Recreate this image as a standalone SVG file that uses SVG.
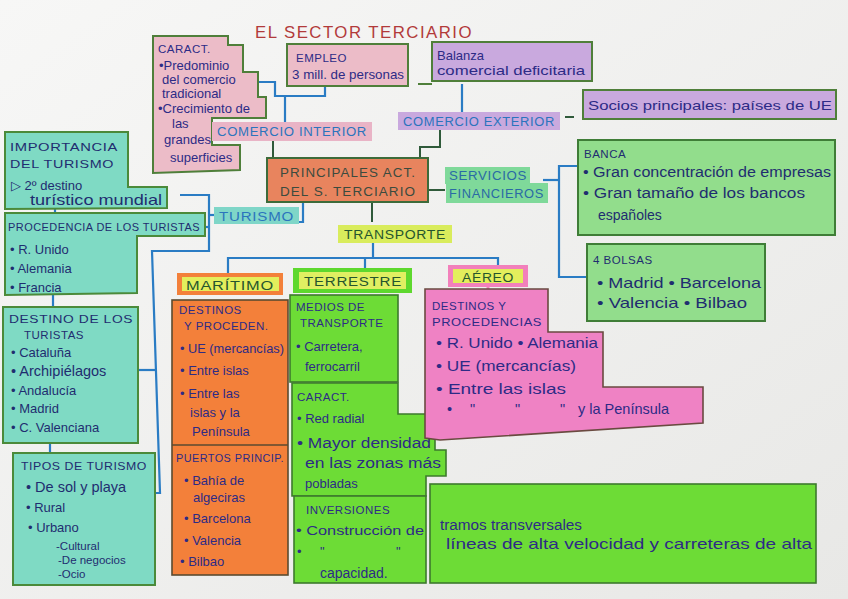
<svg xmlns="http://www.w3.org/2000/svg" width="848" height="599" viewBox="0 0 848 599">
<defs>
<linearGradient id="bg" x1="0" y1="0" x2="1" y2="1">
<stop offset="0" stop-color="#f7f7f6"/>
<stop offset="1" stop-color="#e8e8e6"/>
</linearGradient>
</defs>
<style>
text{font-family:"Liberation Sans","DejaVu Sans",sans-serif;}
.t{font-size:13px;fill:#2d2b86;}
.h{font-size:11.5px;fill:#2d2b86;letter-spacing:0.5px;}
.tn{font-size:13px;fill:#1f2d70;}
.hn{font-size:11.5px;fill:#1f2d70;letter-spacing:0.5px;}
.lb{font-size:12px;fill:#2b74bd;letter-spacing:0.6px;}
.lg{font-size:12.5px;fill:#25552e;letter-spacing:0.6px;}
.pink{fill:#ecbcc8;stroke:#4f7f3a;stroke-width:2;}
.purple{fill:#c9a9de;stroke:#4f7f3a;stroke-width:2;}
.teal{fill:#7fdac4;stroke:#4b8a3a;stroke-width:2;}
.lgreen{fill:#92dd8c;stroke:#3f7d37;stroke-width:2;}
.bgreen{fill:#6ddc36;stroke:#3d7a2d;stroke-width:1.6;}
.orange{fill:#f3803a;stroke:#5a4a30;stroke-width:1.6;}
.hpink{fill:#ef82c4;stroke:#6a4a40;stroke-width:1.6;}
.conn{fill:none;stroke:#2a7cc4;stroke-width:2.2;}
.connd{fill:none;stroke:#2f5a3a;stroke-width:2;}
</style>
<rect width="848" height="599" fill="url(#bg)"/>

<text x="255" y="38" style="font-size:17px;fill:#b23a3a;letter-spacing:1.5px" textLength="218" lengthAdjust="spacingAndGlyphs">EL SECTOR TERCIARIO</text>

<g id="connectors">
<path class="conn" d="M258,82 H275 V96 H325 V86"/>
<path class="conn" d="M285,96 V122"/>
<path class="connd" d="M273,141 V158"/>
<path class="conn" d="M462,84 V112"/>
<path class="connd" d="M440,130 V147 H420 V158"/>
<path class="connd" d="M565,117 H574"/>
<path class="connd" d="M428,190 H445"/>
<path class="conn" d="M543,180 H559"/>
<path class="conn" d="M578,166 H559 V277 H587"/>
<path class="conn" d="M303,202 V222 H298"/>
<path class="conn" d="M180,195 H209 V251 H152 L160,493 H155"/>
<path class="conn" d="M203,227 H209"/>
<path class="conn" d="M209,215 H214"/>
<path class="conn" d="M138,370 H156"/>
<path class="conn" d="M55,208 V213"/>
<path class="conn" d="M53,295 V307"/>
<path class="conn" d="M50,443 V453"/>
<path class="connd" d="M372,202 V222"/>
<path class="conn" d="M373,243 V258"/>
<path class="conn" d="M228,273 V258 H498 V265"/>
<path class="conn" d="M365,258 V268"/>
</g>

<g id="caract-comercio">
<polygon class="pink" points="153,36 228,36 228,45 243,45 243,72 258,72 258,97 266,97 266,118 212,118 212,145 240,145 240,170 153,173"/>
<text class="h" x="158" y="53">CARACT.</text>
<text class="t" x="159" y="70">•Predominio</text>
<text class="t" x="162" y="84">del comercio</text>
<text class="t" x="162" y="98">tradicional</text>
<text class="t" x="158" y="113">•Crecimiento de</text>
<text class="t" x="172" y="128">las</text>
<text class="t" x="164" y="144">grandes</text>
<text class="t" x="170" y="162">superficies</text>
</g>

<g id="comercio-interior">
<rect x="212" y="122" width="160" height="19" fill="#e9b4c6"/>
<text class="lb" x="217" y="136" textLength="150" lengthAdjust="spacingAndGlyphs">COMERCIO INTERIOR</text>
</g>

<g id="empleo">
<rect class="pink" x="287" y="44" width="121" height="42"/>
<text class="h" x="296" y="62">EMPLEO</text>
<text class="t" x="292" y="79" textLength="112" lengthAdjust="spacingAndGlyphs">3 mill. de personas</text>
</g>

<g id="balanza">
<rect class="purple" x="432" y="42" width="160" height="39"/>
<line x1="418" y1="84" x2="432" y2="84" stroke="#4f7f3a" stroke-width="2"/>
<text class="t" x="437" y="60">Balanza</text>
<text class="t" x="437" y="75" textLength="148" lengthAdjust="spacingAndGlyphs">comercial deficitaria</text>
</g>

<g id="comercio-exterior">
<rect x="398" y="112" width="162" height="18" fill="#c9a9de"/>
<text class="lb" x="403" y="126" textLength="152" lengthAdjust="spacingAndGlyphs">COMERCIO EXTERIOR</text>
</g>

<g id="socios">
<rect class="purple" x="583" y="90" width="253" height="29"/>
<text class="t" x="588" y="110" textLength="244" lengthAdjust="spacingAndGlyphs">Socios principales: países de UE</text>
</g>

<g id="principales">
<rect x="267" y="158" width="161" height="44" fill="#e8845e" stroke="#3d6b3a" stroke-width="2"/>
<text x="280" y="177" style="font-size:13px;fill:#3b4b3e;letter-spacing:1px" textLength="136" lengthAdjust="spacingAndGlyphs">PRINCIPALES ACT.</text>
<text x="280" y="196" style="font-size:13px;fill:#3b4b3e;letter-spacing:1px" textLength="136" lengthAdjust="spacingAndGlyphs">DEL S. TERCIARIO</text>
</g>

<g id="servicios">
<rect x="445" y="167" width="85" height="17" fill="#7fd99a"/>
<rect x="446" y="183" width="102" height="20" fill="#7fd99a"/>
<text class="lb" x="449" y="180" style="fill:#2a6aa5" textLength="78" lengthAdjust="spacingAndGlyphs">SERVICIOS</text>
<text class="lb" x="449" y="198" style="fill:#2a6aa5" textLength="95" lengthAdjust="spacingAndGlyphs">FINANCIEROS</text>
</g>

<g id="banca">
<rect class="lgreen" x="578" y="140" width="257" height="95"/>
<text class="hn" x="584" y="158">BANCA</text>
<text class="tn" x="583" y="177" style="font-size:14px" textLength="248" lengthAdjust="spacingAndGlyphs">• Gran concentración de empresas</text>
<text class="tn" x="583" y="198" style="font-size:14px" textLength="222" lengthAdjust="spacingAndGlyphs">• Gran tamaño de los bancos</text>
<text class="tn" x="598" y="220" style="font-size:14px">españoles</text>
</g>

<g id="bolsas">
<rect class="lgreen" x="587" y="244" width="178" height="77"/>
<text class="hn" x="593" y="264">4 BOLSAS</text>
<text class="tn" x="597" y="288" style="font-size:14.5px" textLength="164" lengthAdjust="spacingAndGlyphs">• Madrid  • Barcelona</text>
<text class="tn" x="597" y="308" style="font-size:14.5px" textLength="150" lengthAdjust="spacingAndGlyphs">• Valencia  • Bilbao</text>
</g>

<g id="turismo">
<rect x="214" y="207" width="85" height="17" fill="#7fd6c8"/>
<text class="lb" x="219" y="221" textLength="75" lengthAdjust="spacingAndGlyphs">TURISMO</text>
</g>

<g id="importancia">
<polygon class="teal" points="5,132 128,132 128,187 167,187 167,208 5,209"/>
<text class="hn" x="10" y="151" textLength="108" lengthAdjust="spacingAndGlyphs">IMPORTANCIA</text>
<text class="hn" x="10" y="168" textLength="104" lengthAdjust="spacingAndGlyphs">DEL TURISMO</text>
<text class="tn" x="11" y="190">▷ 2º destino</text>
<text class="tn" x="30" y="205" style="font-size:14.5px" textLength="132" lengthAdjust="spacingAndGlyphs">turístico mundial</text>
</g>

<g id="procedencia">
<polygon class="teal" points="5,213 205,213 205,236 137,236 137,293 5,295"/>
<text class="hn" x="8" y="231" textLength="192" lengthAdjust="spacingAndGlyphs">PROCEDENCIA DE LOS TURISTAS</text>
<text class="tn" x="10" y="254">• R. Unido</text>
<text class="tn" x="10" y="273">• Alemania</text>
<text class="tn" x="10" y="292">• Francia</text>
</g>

<g id="destino">
<rect class="teal" x="3" y="307" width="135" height="136"/>
<text class="hn" x="9" y="323" textLength="124" lengthAdjust="spacingAndGlyphs">DESTINO DE LOS</text>
<text class="hn" x="24" y="339">TURISTAS</text>
<text class="tn" x="11" y="357">• Cataluña</text>
<text class="tn" x="11" y="376" style="font-size:14.5px">• Archipiélagos</text>
<text class="tn" x="11" y="395">• Andalucía</text>
<text class="tn" x="11" y="413">• Madrid</text>
<text class="tn" x="11" y="432">• C. Valenciana</text>
</g>

<g id="tipos">
<rect class="teal" x="13" y="453" width="142" height="132"/>
<text class="hn" x="21" y="470" textLength="126" lengthAdjust="spacingAndGlyphs">TIPOS DE TURISMO</text>
<text class="tn" x="26" y="492" style="font-size:14.5px">• De sol y playa</text>
<text class="tn" x="26" y="512">• Rural</text>
<text class="tn" x="28" y="532">• Urbano</text>
<text class="tn" x="56" y="550" style="font-size:11.5px">-Cultural</text>
<text class="tn" x="58" y="564" style="font-size:11.5px">-De negocios</text>
<text class="tn" x="58" y="578" style="font-size:11.5px">-Ocio</text>
</g>

<g id="transporte">
<rect x="338" y="225" width="114" height="18" fill="#d9ec5c"/>
<text class="lg" x="344" y="239" textLength="102" lengthAdjust="spacingAndGlyphs">TRANSPORTE</text>
</g>

<g id="maritimo">
<rect x="177" y="273" width="106" height="22" fill="#f3803a"/>
<rect x="182" y="277" width="97" height="14" fill="#e3ee5c"/>
<text class="lg" x="186" y="290" textLength="88" lengthAdjust="spacingAndGlyphs">MARÍTIMO</text>
</g>

<g id="terrestre">
<rect x="293" y="268" width="119" height="25" fill="#5ed82e"/>
<rect x="299" y="272" width="107" height="17" fill="#e0ef62"/>
<text class="lg" x="304" y="286" textLength="98" lengthAdjust="spacingAndGlyphs">TERRESTRE</text>
</g>

<g id="aereo">
<rect x="448" y="265" width="80" height="22" fill="#f280bb"/>
<rect x="453" y="269" width="70" height="14" fill="#e3ee5c"/>
<line x1="488" y1="287" x2="488" y2="290" stroke="#f280bb" stroke-width="3"/>
<text class="lg" x="462" y="282" textLength="52" lengthAdjust="spacingAndGlyphs">AÉREO</text>
</g>

<g id="maritimo-detalle">
<rect class="orange" x="172" y="300" width="116" height="275"/>
<line x1="172" y1="445" x2="288" y2="445" stroke="#5a4a30" stroke-width="1.6"/>
<text class="h" x="179" y="314">DESTINOS</text>
<text class="h" x="184" y="330">Y PROCEDEN.</text>
<text class="t" x="180" y="353" textLength="104" lengthAdjust="spacingAndGlyphs">• UE (mercancías)</text>
<text class="t" x="180" y="375">• Entre islas</text>
<text class="t" x="180" y="398">• Entre las</text>
<text class="t" x="190" y="417">islas y la</text>
<text class="t" x="192" y="436">Península</text>
<text class="h" x="176" y="462" textLength="108" lengthAdjust="spacingAndGlyphs">PUERTOS PRINCIP.</text>
<text class="t" x="184" y="485">• Bahía de</text>
<text class="t" x="193" y="502">algeciras</text>
<text class="t" x="184" y="523">• Barcelona</text>
<text class="t" x="184" y="545">• Valencia</text>
<text class="t" x="180" y="566">• Bilbao</text>
</g>

<g id="terrestre-medios">
<rect class="bgreen" x="290" y="295" width="108" height="87"/>
<text class="h" x="296" y="311">MEDIOS DE</text>
<text class="h" x="300" y="327">TRANSPORTE</text>
<text class="t" x="296" y="351">• Carretera,</text>
<text class="t" x="305" y="371">ferrocarril</text>
</g>

<g id="terrestre-caract">
<polygon class="bgreen" points="292,383 398,383 398,414 435,414 435,450 446,450 446,476 426,476 426,496 292,496"/>
<text class="h" x="297" y="401">CARACT.</text>
<text class="t" x="297" y="423">• Red radial</text>
<text class="t" x="297" y="448" style="font-size:14px" textLength="134" lengthAdjust="spacingAndGlyphs">• Mayor densidad</text>
<text class="t" x="305" y="468" style="font-size:14px" textLength="136" lengthAdjust="spacingAndGlyphs">en las zonas más</text>
<text class="t" x="305" y="488">pobladas</text>
</g>

<g id="terrestre-inversiones">
<rect class="bgreen" x="294" y="496" width="132" height="87"/>
<rect class="bgreen" x="430" y="484" width="386" height="99"/>
<text class="h" x="306" y="514">INVERSIONES</text>
<text class="t" x="296" y="535" textLength="128" lengthAdjust="spacingAndGlyphs">• Construcción de</text>
<text class="t" y="556"><tspan x="297">•</tspan><tspan x="320">"</tspan><tspan x="396">"</tspan></text>
<text class="t" x="320" y="578" style="font-size:14px">capacidad.</text>
<text class="t" x="440" y="530" style="font-size:14px" textLength="142" lengthAdjust="spacingAndGlyphs">tramos transversales</text>
<text class="t" x="446" y="549" style="font-size:15px" textLength="366" lengthAdjust="spacingAndGlyphs">líneas de alta velocidad y carreteras de alta</text>
</g>

<g id="aereo-detalle">
<polygon class="hpink" points="425,289 548,289 548,332 603,332 603,387 703,387 703,423 440,440 425,438"/>
<text class="h" x="432" y="310">DESTINOS Y</text>
<text class="h" x="432" y="326" textLength="110" lengthAdjust="spacingAndGlyphs">PROCEDENCIAS</text>
<text class="t" x="436" y="348" style="font-size:14.5px" textLength="162" lengthAdjust="spacingAndGlyphs">• R. Unido  • Alemania</text>
<text class="t" x="436" y="371" style="font-size:14.5px" textLength="140" lengthAdjust="spacingAndGlyphs">• UE (mercancías)</text>
<text class="t" x="436" y="394" style="font-size:14.5px" textLength="130" lengthAdjust="spacingAndGlyphs">• Entre las islas</text>
<text class="t" y="414" style="font-size:14.5px"><tspan x="447">•</tspan><tspan x="470">"</tspan><tspan x="515">"</tspan><tspan x="560">"</tspan><tspan x="578">y la Península</tspan></text>
</g>
</svg>
